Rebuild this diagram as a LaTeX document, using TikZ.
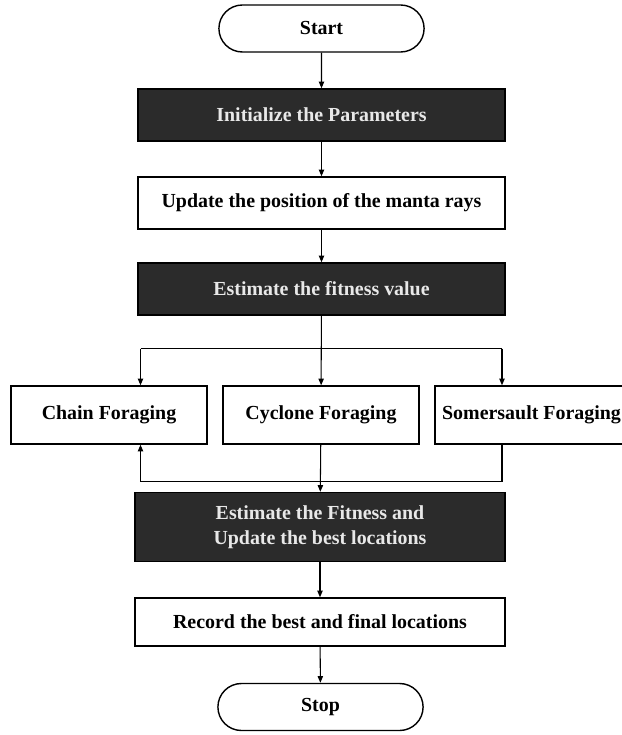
\documentclass[tikz,border=0pt]{standalone}
\usepackage{fontspec}
\setmainfont{Liberation Serif}
\usepackage{tikz}
\usetikzlibrary{arrows.meta,shapes.misc}

\definecolor{boxdark}{HTML}{2B2B2B}
\definecolor{txtlight}{HTML}{E8E8E8}

\tikzset{
  every node/.style={font=\fontsize{17}{21.5}\selectfont\bfseries},
  term/.style={draw, line width=1.2pt, rounded rectangle, minimum width=213*0.03cm, minimum height=47*0.03cm},
  plainbox/.style={draw, line width=1.2pt, fill=white, minimum width=367*0.03cm, minimum height=52*0.03cm},
  darkbox/.style={plainbox, fill=boxdark, text=txtlight},
  forbox/.style={draw, line width=1.2pt, minimum width=196*0.03cm, minimum height=58*0.03cm},
  arr/.style={-{Triangle[length=0.2cm,width=0.16cm]}, line width=0.9pt}
}

\begin{document}
\begin{tikzpicture}[x=0.03cm, y=-0.03cm]
\fill[white] (0,0) rectangle (621,735);
\useasboundingbox (0,0) rectangle (621,735);

% main column
\node[term] (start) at (321.5,28.5) {Start};
\node[darkbox] (init) at (321.5,115) {Initialize the Parameters};
\node[plainbox] (update) at (321.5,203) {Update the position of the manta rays};
\node[darkbox] (fit) at (321.5,289) {Estimate the fitness value};

% foraging strategies
\node[forbox] (chain) at (109,415) {Chain Foraging};
\node[forbox] (cyclone) at (321,415) {Cyclone Foraging};
\node[forbox, minimum width=193*0.03cm, inner sep=1pt] (somer) at (531.5,415) {Somersault Foraging};

\node[darkbox, minimum width=370*0.03cm, minimum height=69*0.03cm, align=center] (fit2) at (320,527)
  {Estimate the Fitness and\\Update the best locations};
\node[plainbox, minimum width=370*0.03cm, minimum height=48*0.03cm] (record) at (320,622) {Record the best and final locations};
\node[term] (stop) at (320.5,707) {Stop};

\coordinate (l) at (140.5,348.5);
\coordinate (r) at (502,348.5);
\coordinate (lb) at (140.5,481.5);
\coordinate (rb) at (502,481.5);

\draw[arr] (start) -- (init);
\draw[arr] (init) -- (update);
\draw[arr] (update) -- (fit);
\draw[arr] (fit) -- (cyclone);
\draw[line width=0.9pt] (l) -- (r);
\draw[arr] (l) -- (l |- chain.north);
\draw[arr] (r) -- (r |- somer.north);
\draw[arr] (r |- somer.south) -- (rb) -- (lb) -- (lb |- chain.south);
\draw[arr] (cyclone) -- (fit2);
\draw[arr] (fit2) -- (record);
\draw[arr] (record) -- (stop);
\end{tikzpicture}
\end{document}
